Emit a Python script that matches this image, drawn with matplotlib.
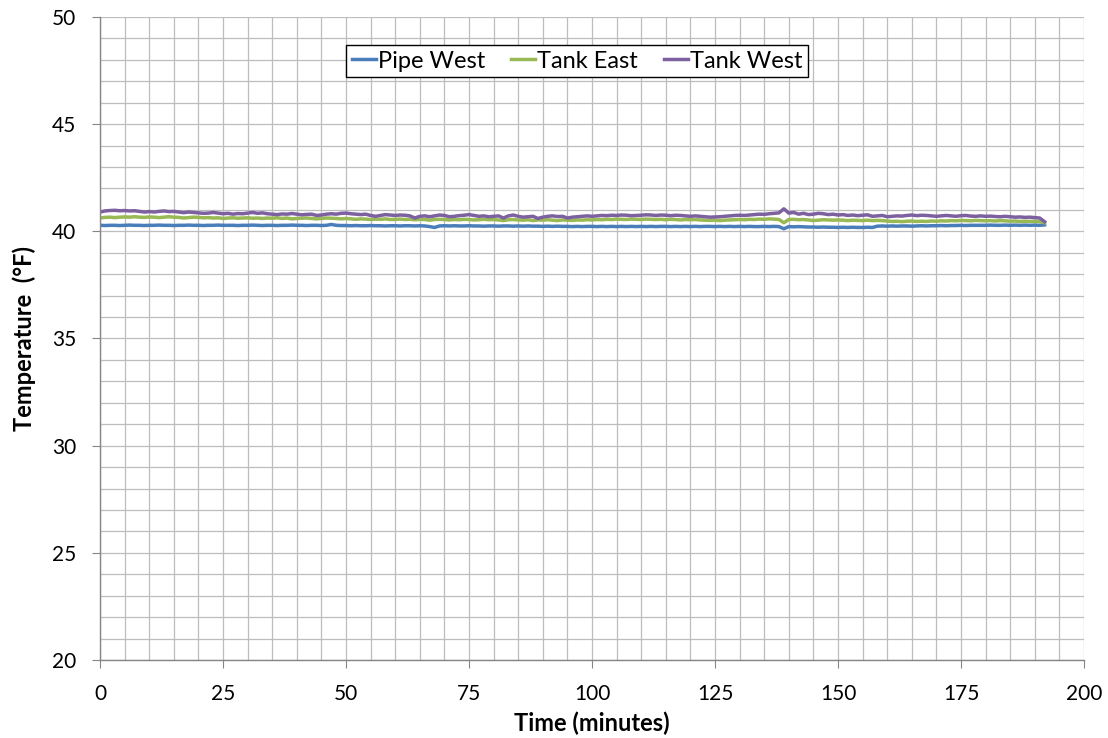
import matplotlib.pyplot as plt
import numpy as np

# time in minutes, one reading per minute
time_min = np.arange(0, 193)

pipe_west = [
    40.28, 40.27, 40.28, 40.28, 40.27, 40.28, 40.29, 40.28, 40.28, 40.27,
    40.28, 40.28, 40.29, 40.28, 40.28, 40.27, 40.28, 40.28, 40.29, 40.28,
    40.28, 40.27, 40.28, 40.28, 40.29, 40.28, 40.28, 40.28, 40.27, 40.28,
    40.28, 40.29, 40.28, 40.27, 40.28, 40.28, 40.27, 40.28, 40.28, 40.29,
    40.28, 40.28, 40.27, 40.28, 40.28, 40.27, 40.28, 40.32, 40.28, 40.27,
    40.27, 40.26, 40.27, 40.26, 40.26, 40.27, 40.26, 40.26, 40.25, 40.26,
    40.26, 40.25, 40.26, 40.26, 40.25, 40.26, 40.25, 40.22, 40.18, 40.25,
    40.26, 40.25, 40.26, 40.25, 40.25, 40.26, 40.25, 40.25, 40.24, 40.25,
    40.25, 40.24, 40.25, 40.25, 40.24, 40.25, 40.24, 40.25, 40.24, 40.24,
    40.23, 40.24, 40.23, 40.24, 40.23, 40.23, 40.22, 40.23, 40.22, 40.23,
    40.23, 40.22, 40.23, 40.22, 40.23, 40.22, 40.23, 40.22, 40.23, 40.22,
    40.23, 40.22, 40.23, 40.22, 40.23, 40.23, 40.22, 40.23, 40.22, 40.23,
    40.22, 40.23, 40.22, 40.23, 40.23, 40.22, 40.23, 40.22, 40.23, 40.22,
    40.23, 40.22, 40.23, 40.22, 40.22, 40.23, 40.22, 40.23, 40.22, 40.12,
    40.22, 40.21, 40.22, 40.21, 40.20, 40.20, 40.19, 40.20, 40.19, 40.19,
    40.18, 40.19, 40.18, 40.19, 40.18, 40.18, 40.19, 40.18, 40.24, 40.25,
    40.24, 40.25, 40.24, 40.25, 40.25, 40.24, 40.25, 40.26, 40.25, 40.26,
    40.26, 40.27, 40.26, 40.27, 40.27, 40.28, 40.27, 40.28, 40.28, 40.28,
    40.28, 40.29, 40.28, 40.28, 40.29, 40.28, 40.29, 40.28, 40.29, 40.28,
    40.29, 40.28, 40.30,
]

tank_east = [
    40.62, 40.65, 40.66, 40.64, 40.66, 40.67, 40.66, 40.68, 40.66, 40.65,
    40.67, 40.66, 40.64, 40.66, 40.68, 40.66, 40.65, 40.62, 40.64, 40.66,
    40.65, 40.63, 40.64, 40.62, 40.63, 40.60, 40.62, 40.63, 40.61, 40.62,
    40.63, 40.61, 40.62, 40.60, 40.62, 40.61, 40.63, 40.60, 40.62, 40.58,
    40.60, 40.61, 40.62, 40.60, 40.58, 40.60, 40.62, 40.61, 40.60, 40.58,
    40.60, 40.58, 40.56, 40.58, 40.57, 40.55, 40.57, 40.56, 40.58, 40.55,
    40.56, 40.57, 40.55, 40.56, 40.54, 40.56, 40.55, 40.52, 40.55, 40.56,
    40.55, 40.53, 40.55, 40.54, 40.56, 40.55, 40.53, 40.54, 40.56, 40.54,
    40.55, 40.53, 40.50, 40.54, 40.55, 40.53, 40.52, 40.54, 40.50, 40.53,
    40.52, 40.54, 40.52, 40.50, 40.53, 40.52, 40.51, 40.53, 40.52, 40.54,
    40.53, 40.55, 40.54, 40.56, 40.55, 40.57, 40.56, 40.55, 40.57, 40.56,
    40.55, 40.57, 40.56, 40.55, 40.56, 40.54, 40.56, 40.55, 40.53, 40.55,
    40.54, 40.55, 40.53, 40.52, 40.51, 40.52, 40.50, 40.52, 40.53, 40.54,
    40.55, 40.54, 40.56, 40.55, 40.57, 40.56, 40.58, 40.57, 40.55, 40.40,
    40.55, 40.56, 40.54, 40.55, 40.53, 40.50, 40.52, 40.54, 40.53, 40.52,
    40.53, 40.52, 40.50, 40.52, 40.51, 40.50, 40.52, 40.50, 40.51, 40.50,
    40.48, 40.46, 40.47, 40.45, 40.47, 40.48, 40.46, 40.47, 40.46, 40.48,
    40.47, 40.49, 40.48, 40.50, 40.49, 40.51, 40.50, 40.49, 40.51, 40.50,
    40.49, 40.50, 40.48, 40.50, 40.49, 40.47, 40.48, 40.46, 40.47, 40.46,
    40.47, 40.45, 40.40,
]

tank_west = [
    40.90, 40.95, 40.97, 40.98, 40.96, 40.97, 40.95, 40.96, 40.93, 40.90,
    40.92, 40.90, 40.93, 40.95, 40.92, 40.93, 40.90, 40.87, 40.90, 40.88,
    40.86, 40.84, 40.85, 40.88, 40.85, 40.82, 40.84, 40.80, 40.83, 40.82,
    40.85, 40.88, 40.84, 40.86, 40.82, 40.80, 40.78, 40.81, 40.80, 40.83,
    40.80, 40.77, 40.79, 40.80, 40.74, 40.76, 40.80, 40.82, 40.80, 40.84,
    40.85, 40.82, 40.80, 40.78, 40.80, 40.74, 40.70, 40.74, 40.78, 40.76,
    40.74, 40.76, 40.75, 40.72, 40.62, 40.70, 40.72, 40.68, 40.72, 40.76,
    40.74, 40.68, 40.70, 40.73, 40.75, 40.78, 40.74, 40.70, 40.72, 40.68,
    40.70, 40.72, 40.62, 40.72, 40.76, 40.70, 40.66, 40.68, 40.70, 40.60,
    40.66, 40.70, 40.72, 40.69, 40.70, 40.62, 40.66, 40.68, 40.70, 40.72,
    40.70, 40.72, 40.74, 40.73, 40.75, 40.74, 40.76, 40.75, 40.73, 40.74,
    40.75, 40.77, 40.76, 40.74, 40.76, 40.75, 40.73, 40.75, 40.74, 40.72,
    40.70, 40.72, 40.70, 40.68, 40.66, 40.67, 40.68, 40.70, 40.72, 40.74,
    40.75, 40.74, 40.76, 40.78, 40.80, 40.79, 40.82, 40.84, 40.86, 41.05,
    40.85, 40.88, 40.80, 40.84, 40.78, 40.80, 40.84, 40.82, 40.78, 40.80,
    40.76, 40.78, 40.74, 40.76, 40.73, 40.75, 40.77, 40.70, 40.72, 40.74,
    40.68, 40.70, 40.72, 40.71, 40.74, 40.76, 40.73, 40.75, 40.74, 40.72,
    40.70, 40.72, 40.74, 40.72, 40.70, 40.73, 40.74, 40.71, 40.70, 40.72,
    40.70, 40.71, 40.69, 40.68, 40.70, 40.68, 40.66, 40.67, 40.65, 40.66,
    40.64, 40.62, 40.45,
]

font = 'Lato'

fig = plt.figure(figsize=(11.08, 7.38), dpi=100)
ax = fig.add_axes([0.0903, 0.1057, 0.8880, 0.8713])

ax.plot(time_min, pipe_west, color='#4a7ebb', lw=2.5, label='Pipe West')
ax.plot(time_min, tank_east, color='#98b954', lw=2.5, label='Tank East')
ax.plot(time_min, tank_west, color='#7d60a0', lw=2.5, label='Tank West')

ax.set_xlim(0, 200)
ax.set_ylim(20, 50)
ax.set_xticks(np.arange(0, 201, 25))
ax.set_xticks(np.arange(0, 201, 5), minor=True)
ax.set_yticks(np.arange(20, 51, 5))
ax.set_yticks(np.arange(20, 51, 1), minor=True)
ax.grid(which='both', color='#bdbdbd', lw=0.9)
ax.set_axisbelow(True)

for s in ['top', 'right']:
    ax.spines[s].set_visible(False)
for s in ['left', 'bottom']:
    ax.spines[s].set_color('#868686')
    ax.spines[s].set_linewidth(1.0)

ax.tick_params(which='major', direction='out', length=6, color='#868686',
               labelsize=15, pad=11)
ax.tick_params(which='minor', length=0)
for lab in ax.get_xticklabels() + ax.get_yticklabels():
    lab.set_fontfamily(font)

ax.set_xlabel('Time (minutes)', fontsize=17, fontweight='bold', family=font, labelpad=6)
ax.set_ylabel('Temperature  (°F)', fontsize=17, fontweight='bold', family=font, labelpad=12)

leg = ax.legend(loc='upper center', bbox_to_anchor=(0.485, 0.957), ncol=3,
                fancybox=False, edgecolor='black', framealpha=1,
                prop={'family': font, 'size': 17}, handlelength=1.0,
                handletextpad=0.1, columnspacing=1.1, borderpad=0.25,
                borderaxespad=0)
leg.get_frame().set_linewidth(1.0)

fig.savefig('out.png', dpi=100)
